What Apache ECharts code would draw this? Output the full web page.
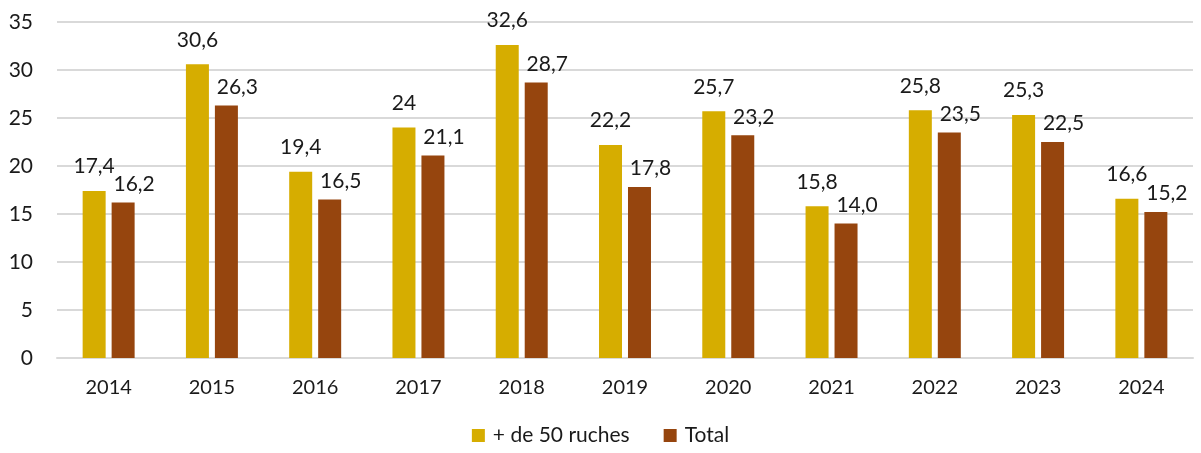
<!DOCTYPE html>
<html>
<head>
<meta charset="utf-8">
<script src="https://cdn.jsdelivr.net/npm/echarts@6/dist/echarts.min.js"></script>
<style>
  html, body { margin: 0; padding: 0; background: #fff; }
  #chart { width: 1201px; height: 453px; }
</style>
</head>
<body>
<div id="chart"></div>
<script>
// années
const years = ["2014", "2015", "2016", "2017", "2018", "2019", "2020", "2021", "2022", "2023", "2024"];
// + de 50 ruches
const bigValues = [17.4, 30.6, 19.4, 24, 32.6, 22.2, 25.7, 15.8, 25.8, 25.3, 16.6];
const bigLabels = ["17,4", "30,6", "19,4", "24", "32,6", "22,2", "25,7", "15,8", "25,8", "25,3", "16,6"];
// total
const totalValues = [16.2, 26.3, 16.5, 21.1, 28.7, 17.8, 23.2, 14.0, 23.5, 22.5, 15.2];
const totalLabels = ["16,2", "26,3", "16,5", "21,1", "28,7", "17,8", "23,2", "14,0", "23,5", "22,5", "15,2"];

const font = "Lato, 'Open Sans', sans-serif";

const chart = echarts.init(document.getElementById("chart"));
chart.setOption({
  animation: false,
  textStyle: { fontFamily: font },
  grid: { left: 57, right: 8, top: 22, bottom: 95, containLabel: false },
  legend: {
    bottom: 2,
    left: "center",
    itemWidth: 13,
    itemHeight: 13,
    itemGap: 34,
    icon: "rect",
    textStyle: { fontSize: 21, color: "#1a1a1a", fontFamily: font, padding: [0, 0, 0, 3] },
    data: ["+ de 50 ruches", "Total"]
  },
  xAxis: {
    type: "category",
    data: years,
    axisLine: { lineStyle: { color: "#d9d9d9", width: 2 } },
    axisTick: { show: false },
    axisLabel: { fontSize: 20, color: "#1a1a1a", margin: 20, fontFamily: font }
  },
  yAxis: {
    type: "value",
    min: 0,
    max: 35,
    interval: 5,
    axisLine: { show: false },
    axisTick: { show: false },
    splitLine: { lineStyle: { color: "#d9d9d9", width: 2 } },
    axisLabel: { fontSize: 21, color: "#1a1a1a", margin: 24, fontFamily: font }
  },
  series: [
    {
      name: "+ de 50 ruches",
      type: "bar",
      data: bigValues,
      barWidth: 23,
      barGap: "26%",
      itemStyle: { color: "#d6ad00" },
      label: {
        show: true,
        position: "top",
        distance: 14,
        fontSize: 21,
        color: "#1a1a1a",
        fontFamily: font,
        formatter: p => bigLabels[p.dataIndex]
      }
    },
    {
      name: "Total",
      type: "bar",
      data: totalValues,
      barWidth: 23,
      itemStyle: { color: "#96450e" },
      label: {
        show: true,
        position: "top",
        distance: 8,
        offset: [11, 0],
        fontSize: 21,
        color: "#1a1a1a",
        fontFamily: font,
        formatter: p => totalLabels[p.dataIndex]
      }
    }
  ]
});
</script>
</body>
</html>
